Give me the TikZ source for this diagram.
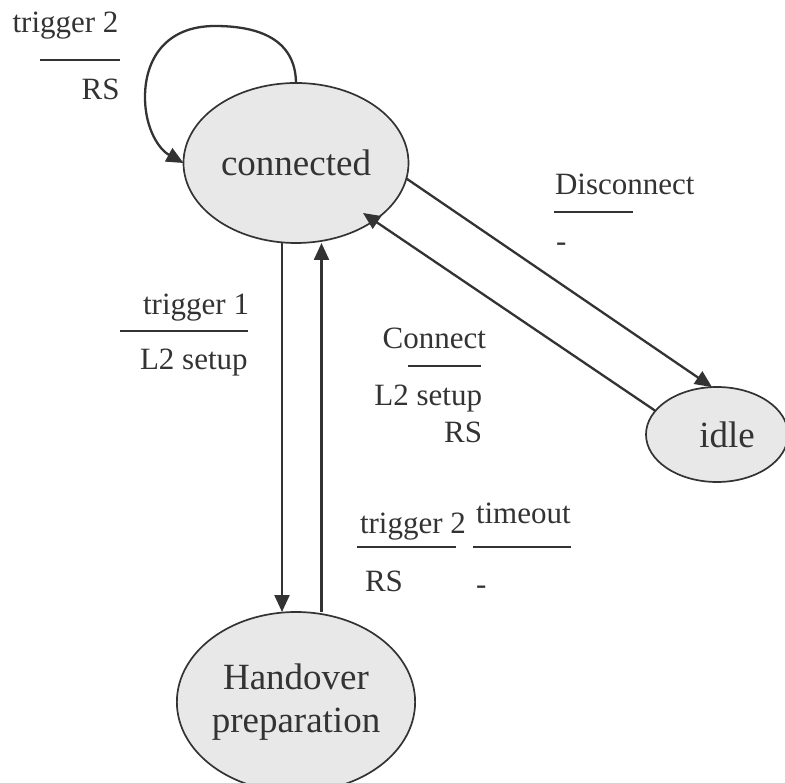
\documentclass[tikz,border=0pt]{standalone}
\usepackage{fontspec}
\setmainfont{Liberation Serif}
\usetikzlibrary{arrows.meta,shapes.geometric}

\definecolor{ink}{HTML}{333333}
\definecolor{statefill}{HTML}{E8E8E8}

\newcommand\lblfont{\fontsize{31pt}{31pt}\selectfont}
\newcommand\statefont{\fontsize{37pt}{43pt}\selectfont}

\tikzset{
  state/.style={ellipse, draw=ink, fill=statefill, line width=1.7pt,
    inner sep=0pt, outer sep=0pt, text=ink, font=\statefont, align=center},
  trans/.style={draw=ink, line width=2.3pt,
    -{Triangle[length=17pt,width=15pt]}},
  lbl/.style={inner sep=0pt, outer sep=0pt, text=ink, font=\lblfont},
  bar/.style={draw=ink, line width=1.8pt}
}

\begin{document}
\begin{tikzpicture}[x=1pt,y=-1pt]
\useasboundingbox (0,0) rectangle (785,783);

% states
\node[state, minimum width=225pt, minimum height=160pt] (connected) at (296,163) {connected};
\node[state, minimum width=142pt, minimum height=95pt] (idle) at (717,434.5) {\hspace*{20pt}idle};
\node[state, minimum width=225pt, minimum height=180pt] (ho) at (296,702) {Handover\\preparation};

% transitions
\draw[trans] (connected.north) .. controls (295.5,40) and (260,26) .. (215,26)
  .. controls (165,26) and (145,60) .. (145,97)
  .. controls (145,130) and (160,150) .. (connected.west);
\draw[trans] ([xshift=-14pt]connected.south) -- ([xshift=-14pt]ho.north);
\draw[trans] ([xshift=25.5pt]ho.north) -- ([xshift=25.5pt]connected.south);
\draw[trans] (connected.-8) -- (idle.96);
\draw[trans] (idle.159) -- ([shift={(67,50)}]connected.center);

% labels: event over action
\node[lbl, anchor=base west] (t2a) at (12.6,33) {trigger 2};
\draw[bar] (40,60) -- (120,60);
\node[lbl, anchor=base east] (t2aact) at (119.5,100) {RS};

\node[lbl, anchor=base west] (disc) at (555,195) {Disconnect};
\draw[bar] (554,212) -- (633,212);
\node[lbl, anchor=base west] (discact) at (556,252) {-};

\node[lbl, anchor=base east] (conn) at (486,349) {Connect};
\draw[bar] (408,366) -- (481,366);
\node[lbl, anchor=base east] (connact1) at (482,406) {L2 setup};
\node[lbl, anchor=base east] (connact2) at (482,443) {RS};

\node[lbl, anchor=base east] (t1) at (249,315) {trigger 1};
\draw[bar] (120,331) -- (248,331);
\node[lbl, anchor=base west] (t1act) at (140,370) {L2 setup};

\node[lbl, anchor=base west] (t2b) at (360,533) {trigger 2};
\draw[bar] (357,547) -- (456,547);
\node[lbl, anchor=base west] (t2bact) at (365,591) {RS};

\node[lbl, anchor=base west] (tmo) at (476,523) {timeout};
\draw[bar] (473,547) -- (571,547);
\node[lbl, anchor=base west] (tmoact) at (476,594) {-};
\end{tikzpicture}
\end{document}
